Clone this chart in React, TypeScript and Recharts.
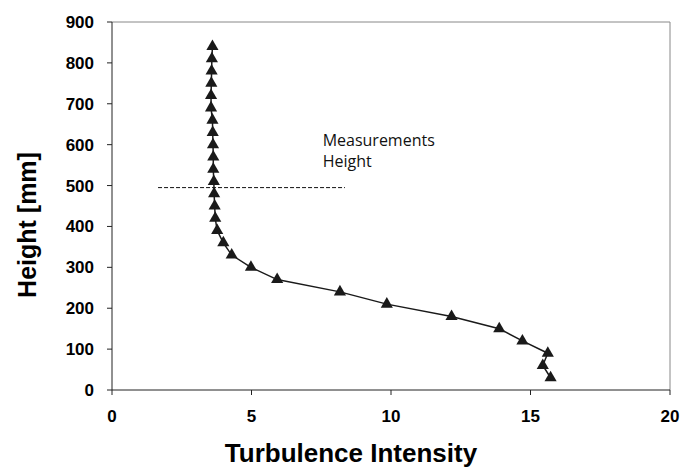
import React from 'react';
import {
  ScatterChart, Scatter, XAxis, YAxis, ZAxis, ReferenceLine, ReferenceDot, Label
} from 'recharts';

// profile: height [mm] vs turbulence intensity
const HEIGHTS = [840, 810, 780, 750, 720, 690, 660, 630, 600, 570, 540, 510, 480, 450, 420, 390,
  360, 330, 300, 270, 240, 210, 180, 150, 120, 90, 60, 30];
const INTENSITY = [3.60, 3.58, 3.57, 3.56, 3.55, 3.55, 3.60, 3.61, 3.62, 3.63, 3.63, 3.65, 3.66, 3.68, 3.70, 3.77,
  3.99, 4.29, 4.98, 5.92, 8.17, 9.85, 12.17, 13.88, 14.71, 15.62, 15.44, 15.72];

const X_TICKS = [0, 5, 10, 15, 20];
const Y_TICKS = [0, 100, 200, 300, 400, 500, 600, 700, 800, 900];

// dashed "measurements height" marker
const MEAS_HEIGHT = 495;
const MEAS_FROM = 1.65;
const MEAS_TO = 8.35;
const NOTE_LINES = ['Measurements', 'Height'];
const NOTE_X = 7.55;
const NOTE_Y = [597, 545];

const data = HEIGHTS.map((h, i) => ({ ti: INTENSITY[i], h }));

const AXIS_FONT = '"Liberation Sans", Arial, sans-serif';

const XTitle = (props: any) => {
  const { viewBox } = props;
  const cx = viewBox.x + viewBox.width / 2 - 40;
  return (
    <text x={cx} y={viewBox.y + 72} textAnchor="middle" fontFamily={AXIS_FONT}
      fontWeight="bold" fontSize={26} fill="#000">
      Turbulence Intensity
    </text>
  );
};

const YTitle = (props: any) => {
  const { viewBox } = props;
  const cx = viewBox.x + 36;
  const cy = viewBox.y + viewBox.height / 2 + 19;
  return (
    <text x={cx} y={cy} transform={`rotate(-90 ${cx} ${cy})`} textAnchor="middle"
      fontFamily={AXIS_FONT} fontWeight="bold" fontSize={25} fill="#000">
      Height [mm]
    </text>
  );
};

const noteLabel = (text: string) => (props: any) => {
  const { viewBox } = props;
  return (
    <text x={viewBox.x} y={viewBox.y} fontFamily='"Open Sans", sans-serif' fontSize={16} fill="#111">
      {text}
    </text>
  );
};

export default function App() {
  return (
    <div style={{ position: 'absolute', left: 0, top: 0, width: 684, height: 470, background: '#fff' }}>
      <ScatterChart width={684} height={470} margin={{ top: 22, right: 14, left: 0, bottom: 0 }}>
        <XAxis
          type="number" dataKey="ti" domain={[0, 20]} ticks={X_TICKS} height={80}
          axisLine={{ stroke: '#222' }} tickLine={{ stroke: '#222' }} tickSize={5} tickMargin={15}
          tick={{ fill: '#000', fontSize: 17, fontWeight: 'bold', fontFamily: AXIS_FONT }}
          allowDataOverflow
        >
          <Label content={XTitle} />
        </XAxis>
        <YAxis
          type="number" dataKey="h" domain={[0, 900]} ticks={Y_TICKS} width={112}
          axisLine={{ stroke: '#222' }} tickLine={{ stroke: '#222' }} tickSize={5} tickMargin={13}
          tick={{ fill: '#000', fontSize: 17, fontWeight: 'bold', fontFamily: AXIS_FONT }}
          allowDataOverflow
        >
          <Label content={YTitle} />
        </YAxis>
        <ZAxis range={[18, 18]} />
        <ReferenceLine y={900} stroke="#888" strokeWidth={1} />
        <ReferenceLine x={20} stroke="#888" strokeWidth={1} />
        <ReferenceLine
          segment={[{ x: MEAS_FROM, y: MEAS_HEIGHT }, { x: MEAS_TO, y: MEAS_HEIGHT }]}
          stroke="#111" strokeDasharray="4 2" strokeWidth={1}
        />
        {NOTE_LINES.map((t, i) => (
          <ReferenceDot key={t} x={NOTE_X} y={NOTE_Y[i]} r={0} stroke="none" fill="none"
            label={{ content: noteLabel(t) }} />
        ))}
        <Scatter
          data={data} shape="triangle" fill="#1a1a1a"
          line={{ stroke: '#1a1a1a', strokeWidth: 1.5 }} lineType="joint"
          isAnimationActive={false}
        />
      </ScatterChart>
    </div>
  );
}
